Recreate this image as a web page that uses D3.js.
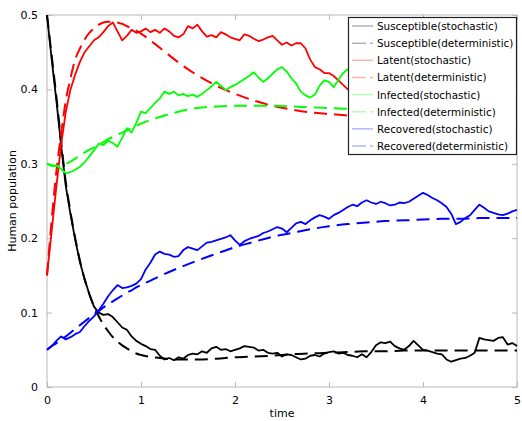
<!DOCTYPE html>
<html>
<head>
<meta charset="utf-8">
<script src="https://cdn.jsdelivr.net/npm/d3@7"></script>
<style>
  body { margin: 0; background: #fff; }
  svg { display: block; font-family: "DejaVu Sans", sans-serif; }
</style>
</head>
<body>
<svg id="chart" width="522" height="421"></svg>
<script>
// time grid of the stochastic runs
const tStoch = [0,0.05,0.1,0.15,0.2,0.25,0.3,0.35,0.4,0.45,0.5,0.55,0.6,0.65,0.7,0.75,0.8,0.85,0.9,0.95,
  1,1.05,1.1,1.15,1.2,1.25,1.3,1.35,1.4,1.45,1.5,1.55,1.6,1.65,1.7,1.75,1.8,1.85,1.9,1.95,
  2,2.05,2.1,2.15,2.2,2.25,2.3,2.35,2.4,2.45,2.5,2.55,2.6,2.65,2.7,2.75,2.8,2.85,2.9,2.95,
  3,3.05,3.1,3.15,3.2,3.25,3.3,3.35,3.4,3.45,3.5,3.55,3.6,3.65,3.7,3.75,3.8,3.85,3.9,3.95,
  4,4.05,4.1,4.15,4.2,4.25,4.3,4.35,4.4,4.45,4.5,4.55,4.6,4.65,4.7,4.75,4.8,4.85,4.9,4.95,5];

const susceptibleStoch = [0.5,0.44,0.385,0.325,0.27,0.232,0.198,0.168,0.145,0.125,0.108,0.1,0.097,0.098,0.094,0.087,0.08,0.077,0.068,0.062,
  0.058,0.055,0.051,0.05,0.042,0.037,0.039,0.036,0.04,0.038,0.043,0.045,0.044,0.048,0.046,0.052,0.054,0.05,0.051,0.048,
  0.05,0.052,0.055,0.054,0.053,0.049,0.05,0.046,0.045,0.046,0.041,0.044,0.043,0.04,0.037,0.038,0.042,0.043,0.041,0.045,
  0.047,0.048,0.045,0.046,0.043,0.042,0.04,0.044,0.04,0.047,0.056,0.06,0.059,0.061,0.055,0.052,0.05,0.055,0.062,0.056,
  0.05,0.049,0.047,0.045,0.044,0.037,0.034,0.036,0.038,0.039,0.042,0.046,0.066,0.064,0.063,0.062,0.066,0.067,0.057,0.059,0.055];

const latentStoch = [0.15,0.21,0.27,0.325,0.37,0.4,0.42,0.437,0.45,0.458,0.466,0.47,0.477,0.485,0.49,0.478,0.466,0.472,0.48,0.476,
  0.478,0.482,0.477,0.48,0.476,0.482,0.478,0.472,0.47,0.474,0.485,0.482,0.487,0.478,0.471,0.473,0.47,0.477,0.474,0.47,
  0.468,0.466,0.474,0.472,0.468,0.465,0.467,0.47,0.472,0.466,0.46,0.463,0.459,0.462,0.462,0.455,0.44,0.43,0.427,0.422,
  0.422,0.418,0.412,0.406,0.4,0.398,0.402,0.396,0.393,0.398,0.403,0.399,0.405,0.41,0.404,0.398,0.401,0.407,0.412,0.408,
  0.403,0.406,0.411,0.414,0.409,0.405,0.41,0.416,0.42,0.414,0.41,0.413,0.418,0.422,0.417,0.412,0.415,0.42,0.417,0.414,0.416];

const infectedStoch = [0.3,0.297,0.298,0.293,0.287,0.289,0.292,0.296,0.302,0.31,0.318,0.327,0.325,0.331,0.328,0.323,0.335,0.348,0.342,0.355,
  0.37,0.368,0.375,0.382,0.388,0.397,0.394,0.397,0.392,0.394,0.391,0.393,0.39,0.394,0.399,0.404,0.41,0.405,0.399,0.403,
  0.406,0.41,0.414,0.418,0.423,0.416,0.41,0.415,0.421,0.427,0.43,0.424,0.415,0.408,0.397,0.392,0.389,0.393,0.405,0.412,
  0.41,0.403,0.413,0.422,0.427,0.423,0.418,0.414,0.419,0.424,0.42,0.413,0.408,0.412,0.417,0.413,0.407,0.404,0.409,0.413,
  0.409,0.403,0.398,0.401,0.406,0.402,0.397,0.394,0.399,0.404,0.4,0.396,0.401,0.406,0.402,0.398,0.401,0.405,0.402,0.4,0.403];

const recoveredStoch = [0.05,0.055,0.062,0.068,0.064,0.067,0.071,0.074,0.082,0.089,0.095,0.103,0.112,0.122,0.13,0.137,0.133,0.134,0.136,0.139,
  0.145,0.158,0.167,0.178,0.182,0.179,0.178,0.175,0.176,0.184,0.188,0.186,0.184,0.189,0.194,0.195,0.197,0.199,0.201,0.204,
  0.197,0.191,0.196,0.199,0.201,0.203,0.207,0.209,0.212,0.215,0.213,0.208,0.214,0.22,0.222,0.219,0.224,0.228,0.231,0.229,
  0.226,0.231,0.234,0.238,0.242,0.245,0.243,0.248,0.251,0.248,0.246,0.249,0.247,0.244,0.245,0.248,0.247,0.249,0.253,0.257,
  0.261,0.258,0.254,0.251,0.247,0.242,0.233,0.219,0.222,0.227,0.231,0.238,0.245,0.241,0.236,0.234,0.232,0.231,0.233,0.236,0.238];

// time grid of the deterministic solution
const tDet = [0,0.05,0.1,0.15,0.2,0.25,0.3,0.35,0.4,0.45,0.5,0.55,0.6,0.65,0.7,0.75,0.8,0.85,0.9,0.95,1,
  1.2,1.4,1.6,1.8,2,2.2,2.4,2.6,2.8,3,3.2,3.4,3.6,3.8,4,4.2,4.4,4.6,4.8,5];

const susceptibleDet = [0.5,0.445,0.39,0.33,0.275,0.235,0.2,0.17,0.145,0.125,0.108,0.095,0.084,0.075,0.067,0.061,0.056,0.052,0.048,0.045,0.043,
  0.039,0.037,0.037,0.038,0.04,0.041,0.042,0.044,0.045,0.046,0.047,0.048,0.048,0.049,0.049,0.049,0.049,0.049,0.049,0.049];
const latentDet = [0.15,0.225,0.29,0.34,0.385,0.415,0.44,0.455,0.467,0.476,0.482,0.487,0.49,0.491,0.491,0.49,0.488,0.485,0.482,0.479,0.475,
  0.456,0.436,0.419,0.405,0.394,0.385,0.378,0.373,0.369,0.367,0.365,0.364,0.363,0.362,0.361,0.36,0.36,0.359,0.359,0.358];
const infectedDet = [0.3,0.298,0.297,0.298,0.3,0.303,0.307,0.311,0.315,0.319,0.322,0.326,0.329,0.333,0.336,0.339,0.342,0.345,0.348,0.351,0.354,
  0.363,0.37,0.375,0.377,0.378,0.378,0.378,0.377,0.376,0.375,0.374,0.374,0.373,0.373,0.373,0.372,0.372,0.372,0.372,0.372];
const recoveredDet = [0.05,0.055,0.059,0.064,0.068,0.073,0.078,0.083,0.088,0.093,0.098,0.102,0.107,0.111,0.115,0.119,0.123,0.127,0.13,0.134,0.137,
  0.149,0.16,0.17,0.179,0.188,0.195,0.202,0.207,0.212,0.216,0.219,0.221,0.223,0.224,0.225,0.226,0.226,0.227,0.227,0.227];

const xTicks = [0, 1, 2, 3, 4, 5];
const yTicks = [0, 0.1, 0.2, 0.3, 0.4, 0.5];

const seriesList = [
  { name: 'Susceptible(stochastic)', t: tStoch, v: susceptibleStoch, color: '#000000', dashed: false },
  { name: 'Susceptible(deterministic)', t: tDet, v: susceptibleDet, color: '#000000', dashed: true },
  { name: 'Latent(stochastic)', t: tStoch, v: latentStoch, color: '#ff0000', dashed: false },
  { name: 'Latent(deterministic)', t: tDet, v: latentDet, color: '#ff0000', dashed: true },
  { name: 'Infected(stochastic)', t: tStoch, v: infectedStoch, color: '#00ff00', dashed: false },
  { name: 'Infected(deterministic)', t: tDet, v: infectedDet, color: '#00ff00', dashed: true },
  { name: 'Recovered(stochastic)', t: tStoch, v: recoveredStoch, color: '#0000ff', dashed: false },
  { name: 'Recovered(deterministic)', t: tDet, v: recoveredDet, color: '#0000ff', dashed: true }
];

const svg = d3.select('#chart');
const margin = { left: 47, right: 5, top: 15, bottom: 34 };
const width = 522, height = 421;

const x = d3.scaleLinear().domain([0, 5]).range([margin.left, width - margin.right]);
const y = d3.scaleLinear().domain([0, 0.5]).range([height - margin.bottom, margin.top]);

const boxColor = '#b8b8b8';

// grey frame with inward ticks on all four sides
svg.append('rect')
  .attr('x', x(0)).attr('y', y(0.5))
  .attr('width', x(5) - x(0)).attr('height', y(0) - y(0.5))
  .attr('fill', 'none').attr('stroke', boxColor).attr('stroke-width', 1);

const axisBottom = d3.axisBottom(x).tickValues(xTicks).tickFormat(d3.format('d')).tickSizeInner(-5).tickSizeOuter(0).tickPadding(9);
const axisTop = d3.axisTop(x).tickValues(xTicks).tickFormat('').tickSizeInner(-5).tickSizeOuter(0);
const axisLeft = d3.axisLeft(y).tickValues(yTicks).tickFormat(d => d === 0 ? '0' : d3.format('.1f')(d)).tickSizeInner(-5).tickSizeOuter(0).tickPadding(9);
const axisRight = d3.axisRight(y).tickValues(yTicks).tickFormat('').tickSizeInner(-5).tickSizeOuter(0);

function styleAxis(g) {
  g.select('.domain').remove();
  g.selectAll('.tick line').attr('stroke', boxColor);
  g.selectAll('.tick text').attr('fill', '#000').style('font-size', '11px').style('font-family', '"DejaVu Sans", sans-serif');
}

svg.append('g').attr('transform', `translate(0,${y(0)})`).call(axisBottom).call(styleAxis);
svg.append('g').attr('transform', `translate(0,${y(0.5)})`).call(axisTop).call(styleAxis);
svg.append('g').attr('transform', `translate(${x(0)},0)`).call(axisLeft).call(styleAxis);
svg.append('g').attr('transform', `translate(${x(5)},0)`).call(axisRight).call(styleAxis);

// axis titles
svg.append('text')
  .attr('x', (x(0) + x(5)) / 2).attr('y', 417)
  .attr('text-anchor', 'middle').style('font-size', '11px')
  .text('time');
svg.append('text')
  .attr('transform', `translate(16,${(y(0) + y(0.5)) / 2}) rotate(-90)`)
  .attr('text-anchor', 'middle').style('font-size', '11px')
  .text('Human population');

// the curves
const line = d3.line()
  .x(d => x(d[0]))
  .y(d => y(d[1]));

seriesList.forEach(s => {
  const pts = s.t.map((t, i) => [t, s.v[i]]);
  svg.append('path')
    .attr('d', s.dashed ? line.curve(d3.curveMonotoneX)(pts) : line.curve(d3.curveLinear)(pts))
    .attr('fill', 'none')
    .attr('stroke', s.color)
    .attr('stroke-width', s.dashed ? 2 : 1.8)
    .attr('stroke-linejoin', 'round')
    .attr('stroke-dasharray', s.dashed ? '13,7' : null);
});

// legend box
const legendX = 348, legendY = 17, legendW = 168, legendH = 137;
const legend = svg.append('g');
legend.append('rect')
  .attr('x', legendX + 0.5).attr('y', legendY + 0.5)
  .attr('width', legendW).attr('height', legendH)
  .attr('fill', '#fff').attr('stroke', '#222').attr('stroke-width', 1.2);

const rowY = d3.scalePoint().domain(seriesList.map(s => s.name)).range([legendY + 9, legendY + 129]);

seriesList.forEach(s => {
  const yy = rowY(s.name);
  legend.append('line')
    .attr('x1', legendX + 4).attr('x2', legendX + 25)
    .attr('y1', yy).attr('y2', yy)
    .attr('stroke', s.color).attr('stroke-opacity', 0.3).attr('stroke-width', 1.5)
    .attr('stroke-dasharray', s.dashed ? '14,4' : null);
  legend.append('text')
    .attr('x', legendX + 29).attr('y', yy + 4)
    .style('font-size', '10.4px')
    .text(s.name);
});
</script>
</body>
</html>
